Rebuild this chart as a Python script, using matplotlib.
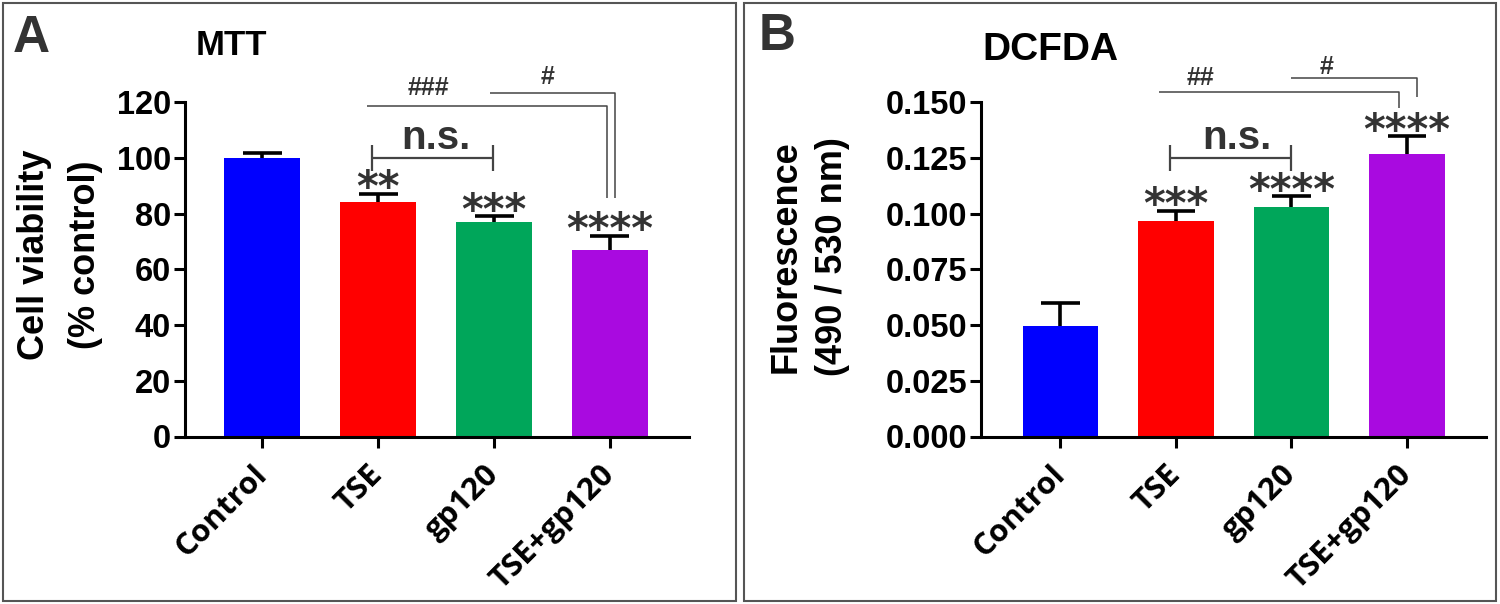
import numpy as np
import matplotlib
matplotlib.use("Agg")
from matplotlib import pyplot as plt
from matplotlib.patches import Rectangle

plt.rcParams['font.family'] = ['Liberation Sans', 'DejaVu Sans']

GROUPS = ['Control', 'TSE', 'gp120', 'TSE+gp120']
COLORS = ['#0000FF', '#FF0000', '#00A65A', '#A90AE0']

MTT_MEAN = [100.0, 84.1, 76.9, 66.8]
MTT_ERR = [1.6, 3.0, 2.1, 5.2]
MTT_STARS = ['', '**', '***', '****']

DCF_MEAN = [0.0497, 0.0967, 0.1031, 0.1268]
DCF_ERR = [0.0103, 0.0045, 0.0048, 0.0080]
DCF_STARS = ['', '***', '****', '****']

W, H = 1500, 604
DARK = '#333333'


def fx(px):
    return px / W


def fy(py):
    return 1 - py / H


def draw_panel(ax, means, errs, stars, xlim, ylim, yticks, fmt):
    x = np.arange(len(GROUPS))
    means = np.array(means)
    tops = means + np.array(errs)
    ax.bar(x, means, width=0.656, color=COLORS, edgecolor='none', zorder=2)
    # upward-only error bars, GraphPad style
    ax.vlines(x, means, tops, color='black', lw=2.6, zorder=3)
    ax.hlines(tops, x - 0.168, x + 0.168, color='black', lw=2.6, zorder=3)
    for i, s in enumerate(stars):
        if s:
            ax.annotate(s, xy=(i, tops[i]), xytext=(0, -5.5),
                        textcoords='offset points', ha='center', va='baseline',
                        fontsize=30, fontweight='bold', family='DejaVu Sans',
                        color=DARK, annotation_clip=False)
    ax.set_xlim(*xlim)
    ax.set_ylim(*ylim)
    ax.set_yticks(yticks)
    ax.set_yticklabels([fmt % v for v in yticks])
    ax.set_xticks(x)
    ax.set_xticklabels(GROUPS, rotation=45, ha='right', va='center',
                       rotation_mode='anchor', family='Open Sans',
                       fontweight='bold', fontsize=22.5)
    for lab in ax.get_yticklabels():
        lab.set_fontweight('bold')
        lab.set_fontsize(23.5)
    ax.spines['top'].set_visible(False)
    ax.spines['right'].set_visible(False)
    ax.spines['left'].set_linewidth(2.2)
    ax.spines['bottom'].set_linewidth(2.2)
    ax.tick_params(axis='y', length=8, width=2.2, pad=2)
    ax.tick_params(axis='x', length=8, width=2.2, pad=16)


def line(ax, xs, ys, color='#444444', lw=1.1):
    ax.plot(xs, ys, color=color, lw=lw, clip_on=False, solid_capstyle='butt')


def ns_bracket(ax, x0, x1, y, ylo, yhi, tx, ty):
    line(ax, [x0, x1], [y, y], lw=1.6)
    line(ax, [x0, x0], [ylo, yhi], lw=1.6)
    line(ax, [x1, x1], [ylo, yhi], lw=1.6)
    ax.text(tx, ty, 'n.s.', ha='center', va='center', fontsize=29,
            fontweight='bold', family=['Liberation Sans Narrow', 'Liberation Sans'],
            color=DARK)


fig = plt.figure(figsize=(15, 6.04), dpi=100)

ax_a = fig.add_axes([fx(185), fy(436.5), fx(504), 334.5 / H])
draw_panel(ax_a, MTT_MEAN, MTT_ERR, MTT_STARS, (-0.669, 3.683), (0, 120),
           np.arange(0, 121, 20), '%d')
ns_bracket(ax_a, 0.946, 1.991, 99.8, 95.1, 104.5, 1.495, 107.0)
line(ax_a, [0.900, 2.972, 2.972], [118.6, 118.6, 85.4])
line(ax_a, [1.965, 3.047, 3.047], [123.3, 123.3, 85.4])
ax_a.text(1.429, 125.0, '###', ha='center', va='center', fontsize=18,
          fontweight='bold', color=DARK)
ax_a.text(2.463, 128.9, '#', ha='center', va='center', fontsize=18,
          fontweight='bold', color=DARK)

ax_b = fig.add_axes([fx(981), fy(436.5), fx(505), 334.5 / H])
draw_panel(ax_b, DCF_MEAN, DCF_ERR, DCF_STARS, (-0.688, 3.684), (0, 0.150),
           np.arange(0, 0.1501, 0.025), '%.3f')
ns_bracket(ax_b, 0.948, 1.996, 0.1248, 0.1191, 0.1306, 1.525, 0.1340)
line(ax_b, [0.853, 2.930, 2.930], [0.1546, 0.1546, 0.1474])
line(ax_b, [1.996, 3.089, 3.089], [0.1609, 0.1609, 0.1522])
ax_b.text(1.208, 0.1609, '##', ha='center', va='center', fontsize=18,
          fontweight='bold', color=DARK)
ax_b.text(2.305, 0.1657, '#', ha='center', va='center', fontsize=18,
          fontweight='bold', color=DARK)

# y labels, two lines each
for xp, txt in [(44, 'Cell viability'), (95, '(% control)')]:
    fig.text(fx(xp), fy(255), txt, rotation=90, rotation_mode='anchor',
             ha='center', va='baseline', fontsize=26, fontweight='bold')
for xp, txt in [(796, 'Fluorescence'), (842, '(490 / 530 nm)')]:
    fig.text(fx(xp), fy(257), txt, rotation=90, rotation_mode='anchor',
             ha='center', va='baseline', fontsize=26, fontweight='bold')

# titles and panel letters
fig.text(fx(231), fy(55), 'MTT', ha='center', va='baseline', fontsize=25,
         fontweight='bold')
fig.text(fx(1050), fy(60), 'DCFDA', ha='center', va='baseline', fontsize=28,
         fontweight='bold')
fig.text(fx(13), fy(52), 'A', ha='left', va='baseline', fontsize=37,
         fontweight='bold', color=DARK)
fig.text(fx(759), fy(50), 'B', ha='left', va='baseline', fontsize=37,
         fontweight='bold', color=DARK)

# panel frames
fig.add_artist(Rectangle((fx(3), fy(601)), fx(733), 598 / H, transform=fig.transFigure,
                         fill=False, ec='#555555', lw=1.5))
fig.add_artist(Rectangle((fx(744), fy(601)), fx(752), 598 / H, transform=fig.transFigure,
                         fill=False, ec='#555555', lw=1.5))

fig.savefig('out.png', dpi=100)
